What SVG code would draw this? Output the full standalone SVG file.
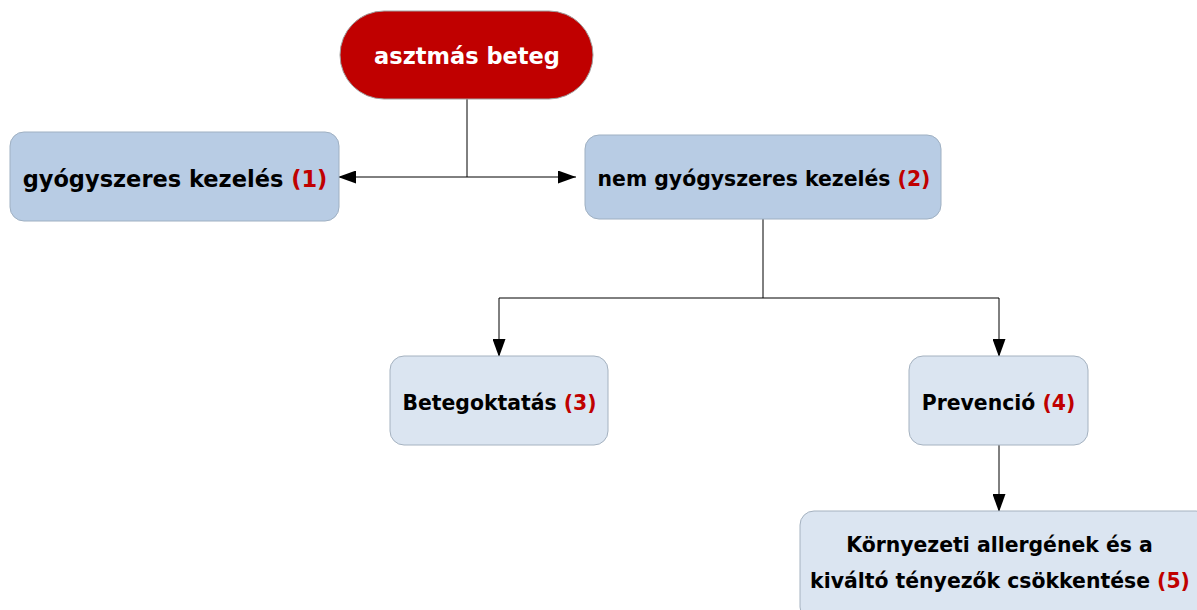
<svg xmlns="http://www.w3.org/2000/svg" width="1197" height="610" viewBox="0 0 1197 610">
  <style>
    .lbl { font-family: "DejaVu Sans", Verdana, sans-serif; font-weight: bold; fill: #000; text-anchor: middle; }
    .big { font-size: 22.5px; }
    .small { font-size: 20.4px; }
    .num { fill: #c00000; }
    .box1 { fill: #b8cce4; stroke: #9fb0c2; stroke-width: 1; }
    .box2 { fill: #dbe5f1; stroke: #a5b2c0; stroke-width: 1; }
    .conn { stroke: #000; stroke-width: 1; fill: none; }
  </style>
  <defs>
    <marker id="arrow" viewBox="0 0 18 13" refX="18" refY="6.5" markerWidth="18" markerHeight="13" markerUnits="userSpaceOnUse" orient="auto">
      <path d="M0,0 L18,6.5 L0,13 Z" fill="#000"/>
    </marker>
  </defs>

  <rect width="1197" height="610" fill="#fff"/>

  <g id="connectors">
    <path class="conn" d="M467,99 V177"/>
    <path class="conn" d="M467,177 H338" marker-end="url(#arrow)"/>
    <path class="conn" d="M467,177 H576" marker-end="url(#arrow)"/>
    <path class="conn" d="M763,219 V298"/>
    <path class="conn" d="M763,298 H499 V357" marker-end="url(#arrow)"/>
    <path class="conn" d="M763,298 H999 V357" marker-end="url(#arrow)"/>
    <path class="conn" d="M999,445 V512" marker-end="url(#arrow)"/>
  </g>

  <g id="node-asztmas-beteg">
    <rect x="340" y="11" width="253" height="88" rx="44" ry="44" fill="#c00000" stroke="#a0a0a0" stroke-width="1"/>
    <text class="lbl big" x="467" y="64" style="fill:#fff">asztmás beteg</text>
  </g>

  <g id="node-gyogyszeres">
    <rect class="box1" x="10" y="132" width="329" height="89" rx="14" ry="14"/>
    <text class="lbl big" x="175" y="187">gyógyszeres kezelés <tspan class="num">(1)</tspan></text>
  </g>

  <g id="node-nem-gyogyszeres">
    <rect class="box1" x="585" y="135" width="356" height="84" rx="14" ry="14"/>
    <text class="lbl small" x="764" y="186">nem gyógyszeres kezelés <tspan class="num">(2)</tspan></text>
  </g>

  <g id="node-betegoktatas">
    <rect class="box2" x="390" y="356" width="218" height="89" rx="14" ry="14"/>
    <text class="lbl small" x="499.5" y="410">Betegoktatás <tspan class="num">(3)</tspan></text>
  </g>

  <g id="node-prevencio">
    <rect class="box2" x="909" y="356" width="179" height="89" rx="14" ry="14"/>
    <text class="lbl small" x="998.5" y="410">Prevenció <tspan class="num">(4)</tspan></text>
  </g>

  <g id="node-kornyezeti">
    <rect class="box2" x="800" y="511" width="410" height="110" rx="14" ry="14"/>
    <text class="lbl small" x="999.5" y="552">Környezeti allergének és a</text>
    <text class="lbl small" x="1000" y="588">kiváltó tényezők csökkentése <tspan class="num">(5)</tspan></text>
  </g>
</svg>
